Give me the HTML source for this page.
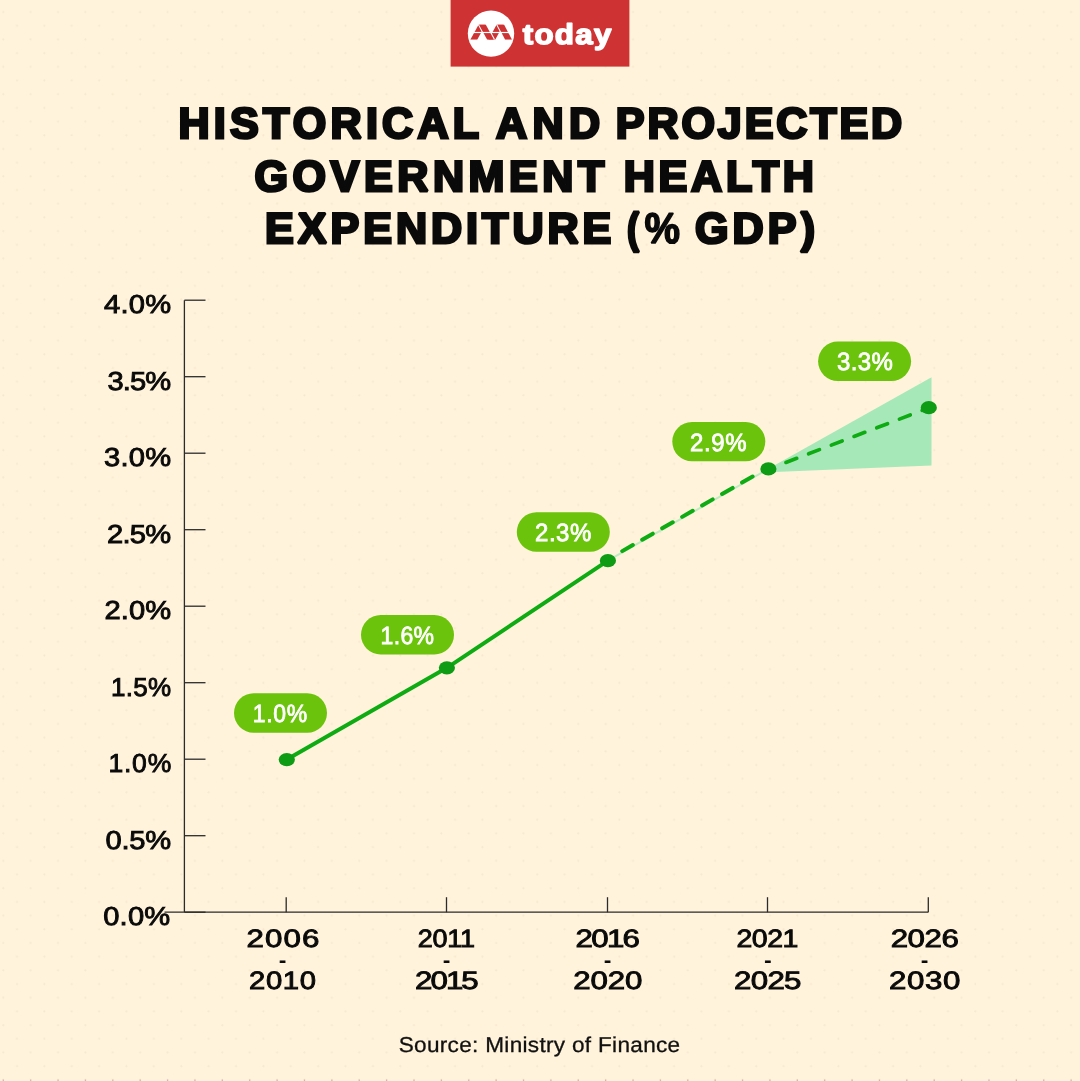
<!DOCTYPE html>
<html lang="en">
<head>
<meta charset="utf-8">
<title>Historical and projected government health expenditure (% GDP)</title>
<style>
html,body{margin:0;padding:0;background:#FFF3DC;}
body{width:1080px;height:1081px;overflow:hidden;}
svg{display:block;}
text{font-family:"Liberation Sans",sans-serif;text-rendering:geometricPrecision;}
.title{font-weight:700;font-size:43.1px;fill:#0A0A0A;stroke:#0A0A0A;stroke-width:2.8px;stroke-linejoin:miter;stroke-miterlimit:2;}
.ylab{font-size:26px;fill:#0A0A0A;stroke:#0A0A0A;stroke-width:.9px;}
.xlab{font-size:25px;fill:#0A0A0A;stroke:#0A0A0A;stroke-width:.9px;}
.pill{font-size:25px;fill:#fff;stroke:#fff;stroke-width:.8px;}
.src{font-size:21.5px;fill:#111;stroke:#111;stroke-width:.3px;}
.logo{font-weight:700;font-size:28.5px;fill:#fff;stroke:#fff;stroke-width:1.5px;stroke-linejoin:round;}
</style>
</head>
<body>
<svg width="1080" height="1081" viewBox="0 0 1080 1081">
<defs>
<pattern id="dots" x="0" y="0" width="27.38" height="27.38" patternUnits="userSpaceOnUse">
<circle cx="3.3" cy="12" r="1.1" fill="#F7E8CE"/>
<circle cx="16.99" cy="25.69" r="1.1" fill="#F7E8CE"/>
</pattern>
<clipPath id="mclip"><rect x="466" y="24.4" width="50" height="15.3"/></clipPath>
</defs>
<rect width="1080" height="1081" fill="#FFF3DC"/>
<rect width="1080" height="1081" fill="url(#dots)"/>

<g id="logo">
<rect x="450.6" y="0" width="178.8" height="66.6" fill="#CE3232"/>
<circle cx="491" cy="33.6" r="23.2" fill="#fff"/>
<g clip-path="url(#mclip)">
<polygon points="470.3,39.7 477.2,39.7 485.6,24.4 478.7,24.4" fill="#CE3232"/>
<polygon points="488.4,39.7 495.2,39.7 503.5,24.4 496.7,24.4" fill="#CE3232"/>
<path d="M478.6 24.4 L486.9 39.7 M486.0 24.4 L494.3 39.7 M496.9 24.4 L504.9 39.7" stroke="#fff" stroke-width="1.6" fill="none"/>
<polygon points="478.9,24.4 485.7,24.4 494.0,39.7 487.2,39.7" fill="#CE3232"/>
<polygon points="497.2,24.4 504.0,24.4 512.0,39.7 505.2,39.7" fill="#CE3232"/>
<rect x="468" y="31.9" width="46" height="1.2" fill="#fff"/>
</g>
<text class="logo" transform="translate(522.80 44.4) scale(1.1 1)" textLength="80.49" lengthAdjust="spacing">today</text>
</g>

<g id="title">
<text class="title" y="138.3"><tspan x="178.50" textLength="299.86" lengthAdjust="spacing">HISTORICAL</tspan> <tspan x="495.90" textLength="104.11" lengthAdjust="spacing">AND</tspan> <tspan x="615.80" textLength="286.43" lengthAdjust="spacing">PROJECTED</tspan></text>
<text class="title" y="190.9"><tspan x="254.40" textLength="349.95" lengthAdjust="spacing">GOVERNMENT</tspan> <tspan x="623.70" textLength="190.27" lengthAdjust="spacing">HEALTH</tspan></text>
<text class="title" y="243.3"><tspan x="265.00" textLength="346.33" lengthAdjust="spacing">EXPENDITURE</tspan> <tspan x="627.00" textLength="12.08" lengthAdjust="spacingAndGlyphs">(</tspan><tspan x="644.50" textLength="35.53" lengthAdjust="spacingAndGlyphs" style="stroke-width:1.5px">%</tspan> <tspan x="695.00" textLength="120.02" lengthAdjust="spacing">GDP)</tspan></text>
</g>
<g id="axes" stroke="#2B2B2B" stroke-width="1.3" fill="none">
<path d="M184.4 300.2 V912.2 M164.5 912.2 H928.3"/>
<path d="M184.4 912.2 H205.5"/>
<path d="M184.4 835.7 H205.5"/>
<path d="M184.4 759.2 H205.5"/>
<path d="M184.4 682.7 H205.5"/>
<path d="M184.4 606.2 H205.5"/>
<path d="M184.4 529.7 H205.5"/>
<path d="M184.4 453.2 H205.5"/>
<path d="M184.4 376.7 H205.5"/>
<path d="M184.4 300.2 H205.5"/>
<path d="M286.2 897.2 V912.2"/>
<path d="M446.5 897.2 V912.2"/>
<path d="M607.5 897.2 V912.2"/>
<path d="M767.5 897.2 V912.2"/>
<path d="M928.3 897.2 V912.2"/>
</g>
<g id="ylabels">
<text class="ylab" transform="translate(103.20 925.0) scale(1.12 1)" textLength="59.87" lengthAdjust="spacing">0.0%</text>
<text class="ylab" transform="translate(105.50 848.5) scale(1.12 1)" textLength="58.52" lengthAdjust="spacing">0.5%</text>
<text class="ylab" transform="translate(108.50 772.0) scale(1.02 1)" textLength="61.49" lengthAdjust="spacing">1.0%</text>
<text class="ylab" transform="translate(110.90 695.5) scale(1.0 1)" textLength="60.17" lengthAdjust="spacing">1.5%</text>
<text class="ylab" transform="translate(104.50 619.0) scale(1.12 1)" textLength="59.49" lengthAdjust="spacing">2.0%</text>
<text class="ylab" transform="translate(106.90 542.5) scale(1.12 1)" textLength="57.45" lengthAdjust="spacing">2.5%</text>
<text class="ylab" transform="translate(104.00 466.0) scale(1.12 1)" textLength="59.92" lengthAdjust="spacing">3.0%</text>
<text class="ylab" transform="translate(107.40 389.5) scale(1.12 1)" textLength="56.97" lengthAdjust="spacing">3.5%</text>
<text class="ylab" transform="translate(104.00 313.0) scale(1.12 1)" textLength="59.87" lengthAdjust="spacing">4.0%</text>
</g>
<g id="xlabels">
<text class="xlab" transform="translate(246.50 946.9) scale(1.25 1)" textLength="58.40" lengthAdjust="spacing">2006</text>
<text class="xlab" x="282.7" y="966.8" text-anchor="middle" style="font-size:20px">-</text>
<text class="xlab" transform="translate(249.00 988.9) scale(1.17 1)" textLength="57.32" lengthAdjust="spacing">2010</text>
<text class="xlab" transform="translate(417.80 946.9) scale(1.08 1)" textLength="53.04" lengthAdjust="spacing">2011</text>
<text class="xlab" x="446.6" y="966.8" text-anchor="middle" style="font-size:20px">-</text>
<text class="xlab" transform="translate(415.00 988.9) scale(1.25 1)" textLength="51.00" lengthAdjust="spacing">2015</text>
<text class="xlab" transform="translate(575.50 946.9) scale(1.25 1)" textLength="51.59" lengthAdjust="spacing">2016</text>
<text class="xlab" x="607.7" y="966.8" text-anchor="middle" style="font-size:20px">-</text>
<text class="xlab" transform="translate(573.20 988.9) scale(1.25 1)" textLength="55.28" lengthAdjust="spacing">2020</text>
<text class="xlab" transform="translate(736.50 946.9) scale(1.14 1)" textLength="54.35" lengthAdjust="spacing">2021</text>
<text class="xlab" x="767.8" y="966.8" text-anchor="middle" style="font-size:20px">-</text>
<text class="xlab" transform="translate(734.10 988.9) scale(1.25 1)" textLength="53.90" lengthAdjust="spacing">2025</text>
<text class="xlab" transform="translate(890.70 946.9) scale(1.25 1)" textLength="54.48" lengthAdjust="spacing">2026</text>
<text class="xlab" x="924.7" y="966.8" text-anchor="middle" style="font-size:20px">-</text>
<text class="xlab" transform="translate(889.10 988.9) scale(1.25 1)" textLength="57.01" lengthAdjust="spacing">2030</text>
</g>
<g id="series">
<polygon points="768.4,468.7 931.5,377.3 931.5,465.6 768.4,472.2" fill="#A7E8B9"/>
<path d="M607.9 560.7 L768.4 468.9" stroke="#BDEBC0" stroke-width="2" fill="none"/>
<path d="M286.8 759.6 L446.9 667.8 L607.9 560.7" stroke="#0EAB13" stroke-width="4" fill="none" stroke-linejoin="round"/>
<path d="M622.23 551.12 L761.73 471.33" stroke="#0EAB13" stroke-width="4" stroke-linecap="round" stroke-dasharray="12.2 10.8" fill="none"/>
<path d="M785.90 462.44 L922.33 410.38" stroke="#0EAB13" stroke-width="3.7" stroke-linecap="round" stroke-dasharray="11.6 12.7" fill="none"/>
<ellipse cx="286.8" cy="759.6" rx="8.1" ry="6.6" fill="#0E9C14"/>
<ellipse cx="446.9" cy="667.8" rx="8.1" ry="6.6" fill="#0E9C14"/>
<ellipse cx="607.9" cy="560.7" rx="8.1" ry="6.6" fill="#0E9C14"/>
<ellipse cx="768.4" cy="468.9" rx="8.1" ry="6.6" fill="#0E9C14"/>
<ellipse cx="928.8" cy="407.7" rx="8.1" ry="6.6" fill="#0E9C14"/>
</g>
<g id="pills">
<rect x="234.0" y="693.3" width="93" height="39.4" rx="19.7" fill="#6BC30B"/>
<text class="pill" transform="translate(252.80 722.2) scale(0.92 1)" textLength="59.03" lengthAdjust="spacing">1.0%</text>
<rect x="361.0" y="615.1" width="93" height="39.4" rx="19.7" fill="#6BC30B"/>
<text class="pill" transform="translate(380.50 644.0) scale(0.92 1)" textLength="58.23" lengthAdjust="spacing">1.6%</text>
<rect x="516.8" y="512.3" width="93" height="39.4" rx="19.7" fill="#6BC30B"/>
<text class="pill" transform="translate(535.00 541.2) scale(0.96 1)" textLength="58.68" lengthAdjust="spacing">2.3%</text>
<rect x="672.3" y="421.9" width="93" height="39.4" rx="19.7" fill="#6BC30B"/>
<text class="pill" transform="translate(690.00 450.8) scale(0.96 1)" textLength="58.88" lengthAdjust="spacing">2.9%</text>
<rect x="818.1" y="341.5" width="93" height="39.4" rx="19.7" fill="#6BC30B"/>
<text class="pill" transform="translate(837.00 370.4) scale(0.96 1)" textLength="58.24" lengthAdjust="spacing">3.3%</text>
</g>
<text class="src" transform="translate(398.70 1052.0) scale(1.05 1)" textLength="268.08" lengthAdjust="spacing">Source: Ministry of Finance</text>
<path d="M3.30 1079.6v1.4M30.68 1079.6v1.4M58.06 1079.6v1.4M85.44 1079.6v1.4M112.82 1079.6v1.4M140.20 1079.6v1.4M167.58 1079.6v1.4M194.96 1079.6v1.4M222.34 1079.6v1.4M249.72 1079.6v1.4M277.10 1079.6v1.4M304.48 1079.6v1.4M331.86 1079.6v1.4M359.24 1079.6v1.4M386.62 1079.6v1.4M414.00 1079.6v1.4M441.38 1079.6v1.4M468.76 1079.6v1.4M496.14 1079.6v1.4M523.52 1079.6v1.4M550.90 1079.6v1.4M578.28 1079.6v1.4M605.66 1079.6v1.4M633.04 1079.6v1.4M660.42 1079.6v1.4M687.80 1079.6v1.4M715.18 1079.6v1.4M742.56 1079.6v1.4M769.94 1079.6v1.4M797.32 1079.6v1.4M824.70 1079.6v1.4M852.08 1079.6v1.4M879.46 1079.6v1.4M906.84 1079.6v1.4M934.22 1079.6v1.4M961.60 1079.6v1.4M988.98 1079.6v1.4M1016.36 1079.6v1.4M1043.74 1079.6v1.4M1071.12 1079.6v1.4" stroke="#9a958c" stroke-opacity=".55" stroke-width="1.3" fill="none"/>
</svg>
</body>
</html>
